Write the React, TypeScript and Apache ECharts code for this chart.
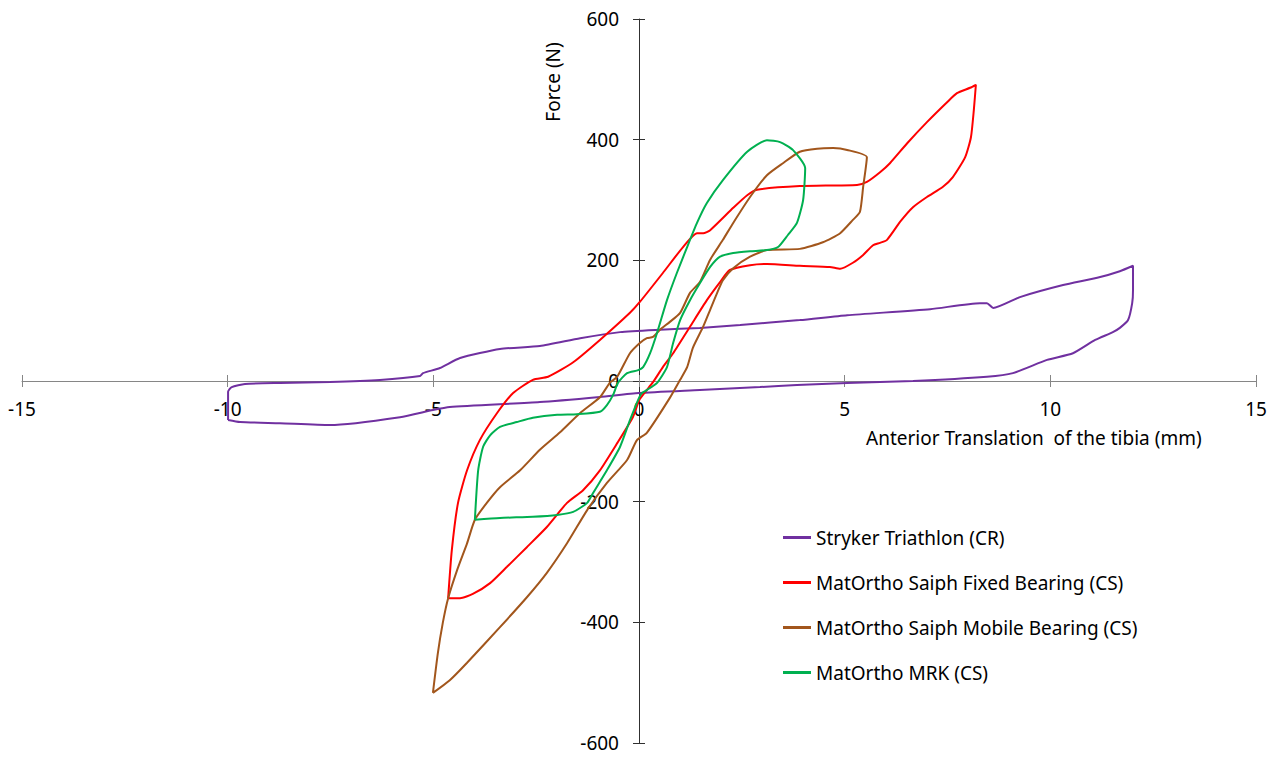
import React, { useEffect, useRef } from "react";
import * as echarts from "echarts";

const seriesNames = [
  "Stryker Triathlon (CR)",
  "MatOrtho Saiph Fixed Bearing (CS)",
  "MatOrtho Saiph Mobile Bearing (CS)",
  "MatOrtho MRK (CS)",
];
const seriesColors = ["#7030A0", "#FF0000", "#A2561C", "#00B050"];

const xTicks = { min: -15, max: 15, interval: 5 };
const yTicks = { min: -600, max: 600, interval: 200 };

const stryker: number[][] = [
  [-9.99, -64.6], [-9.99, -18], [-9.9, -10], [-9.58, -5], [-8.73, -3.3], [-7.51, -1.7],
  [-6.3, 1.7], [-5.32, 8.3], [-5.25, 13], [-4.84, 21.5], [-4.35, 38], [-3.38, 53],
  [-2.41, 58], [-1.43, 71], [-0.46, 81], [0.51, 85], [1.48, 88], [2.46, 93], [3.91, 101],
  [5.06, 109], [7.08, 119], [8.29, 129], [8.46, 129], [8.61, 121], [9.26, 139],
  [10.31, 159], [11.14, 171], [11.69, 182], [12.01, 191],
  [12.01, 151], [11.99, 129], [11.89, 101], [11.69, 88], [11.52, 81], [11.09, 68],
  [10.55, 46], [9.92, 35], [9.09, 13], [8.46, 7], [6.66, 0], [5.06, -3.3], [3.84, -6.6],
  [2.94, -10], [1.48, -15], [0, -20], [-0.95, -26.5], [-2.41, -35], [-4.6, -43],
  [-5.01, -48], [-5.81, -60], [-7.51, -73], [-8.73, -70], [-9.7, -68], [-9.99, -64.6],
];

const fixedBearing: number[][] = [
  [-4.64, -360], [-4.55, -280], [-4.4, -202], [-4.18, -148], [-3.87, -98], [-3.45, -53],
  [-3.06, -20], [-2.58, 2], [-2.21, 7], [-1.6, 31], [-0.95, 68], [-0.22, 113], [0.02, 131],
  [0.58, 179], [1.07, 222], [1.41, 245], [1.56, 245], [1.73, 250], [2.29, 287], [2.63, 308],
  [2.87, 317], [3.91, 323], [5.3, 325], [5.54, 330], [5.86, 346], [6.1, 361], [6.52, 394],
  [7.0, 429], [7.49, 462], [7.73, 477], [8.05, 486], [8.19, 491],
  [8.14, 449], [8.07, 404], [7.93, 371], [7.63, 338], [7.39, 322], [7.0, 305], [6.66, 288],
  [6.35, 264], [6.03, 234], [5.86, 229], [5.69, 225], [5.45, 209], [5.2, 196], [4.89, 186],
  [4.64, 189], [3.91, 191], [3.11, 194], [2.7, 192], [2.21, 184], [1.97, 164], [1.65, 134],
  [1.24, 90], [0.83, 46], [0.58, 23], [0.34, -2], [0.02, -30], [-0.15, -60], [-0.53, -103],
  [-0.95, -148], [-1.36, -181], [-1.75, -202], [-2.24, -242], [-2.72, -275], [-3.21, -308],
  [-3.62, -335], [-4.04, -353], [-4.35, -360], [-4.64, -360],
];

const mobileBearing: number[][] = [
  [-5.01, -517], [-4.89, -451], [-4.77, -401], [-4.64, -360], [-4.42, -313], [-4.18, -269],
  [-3.99, -230], [-3.7, -202], [-3.38, -176], [-2.89, -148], [-2.41, -114], [-1.92, -85],
  [-1.43, -53], [-0.95, -27], [-0.71, -3], [-0.53, 7], [-0.22, 46], [0.02, 63], [0.19, 71],
  [0.34, 73], [0.51, 85], [0.75, 98], [1.0, 113], [1.24, 146], [1.48, 164], [1.73, 201],
  [2.04, 234], [2.29, 262], [2.7, 305], [3.11, 341], [3.5, 361], [3.91, 380], [4.33, 385],
  [4.72, 386], [5.06, 383], [5.54, 371],
  [5.45, 322], [5.37, 280], [5.2, 267], [4.89, 245], [4.47, 230], [3.91, 219], [3.11, 217],
  [2.7, 206], [2.29, 187], [2.04, 167], [1.9, 146], [1.73, 118], [1.56, 90], [1.31, 55],
  [1.17, 23], [1.0, 2], [0.75, -28], [0.19, -86], [-0.05, -98], [-0.29, -131], [-0.78, -169],
  [-1.26, -214], [-1.75, -269], [-2.24, -318], [-2.72, -358], [-3.38, -408], [-4.18, -467],
  [-4.6, -496], [-5.01, -517],
];

const mrk: number[][] = [
  [-3.99, -230], [-3.91, -148], [-3.79, -109], [-3.62, -90], [-3.38, -76], [-2.97, -68],
  [-2.58, -61], [-1.99, -56], [-1.51, -55], [-0.95, -51], [-0.78, -40], [-0.63, -23],
  [-0.51, -3], [-0.29, 13], [-0.02, 18], [0.1, 23], [0.27, 46], [0.44, 80], [0.68, 134],
  [0.92, 179], [1.17, 222], [1.41, 262], [1.65, 295], [2.04, 333], [2.63, 380], [3.11, 399],
  [3.43, 396], [3.74, 383], [4.04, 353],
  [3.99, 300], [3.84, 262], [3.62, 242], [3.38, 222], [3.11, 217], [2.7, 215], [2.29, 212],
  [1.97, 206], [1.73, 189], [1.48, 162], [1.24, 134], [1.0, 101], [0.83, 63], [0.68, 23],
  [0.44, -3], [0.19, -15], [0.07, -20], [0, -28], [-0.22, -65], [-0.46, -109], [-0.78, -148],
  [-1.12, -186], [-1.26, -202], [-1.6, -217], [-1.99, -222], [-2.58, -225], [-3.38, -227],
  [-3.99, -230],
];

const seriesData = [stryker, fixedBearing, mobileBearing, mrk];

const xAxisTitle = "Anterior Translation  of the tibia (mm)";
const yAxisTitle = "Force (N)";

const FONT = "'Noto Sans', sans-serif";
const X_AXIS_COLOR = "#868686";
const Y_AXIS_COLOR = "#303030";

// plot area
const G = { left: 22, right: 24, top: 19, bottom: 15 };
const W = 1280;
const H = 758;

export default function App() {
  const ref = useRef<HTMLDivElement>(null);

  useEffect(() => {
    if (!ref.current) return;
    const chart = echarts.init(ref.current, undefined, { renderer: "svg" });

    const plotW = W - G.left - G.right;
    const plotH = H - G.top - G.bottom;
    const zeroX = G.left + (plotW * (0 - xTicks.min)) / (xTicks.max - xTicks.min);
    const zeroY = G.top + (plotH * (yTicks.max - 0)) / (yTicks.max - yTicks.min);

    const xRange = { type: "value" as const, min: xTicks.min, max: xTicks.max, interval: xTicks.interval };
    const yRange = { type: "value" as const, min: yTicks.min, max: yTicks.max, interval: yTicks.interval };
    const xTick = { show: true, length: 6, lineStyle: { color: X_AXIS_COLOR, width: 1 } };
    const yTick = { show: true, length: 6, lineStyle: { color: Y_AXIS_COLOR, width: 1 } };
    const labelStyle = { color: "#000", fontSize: 19, fontFamily: FONT };
    const hiddenAxis = (gridIndex: number) => ({
      type: "value" as const,
      gridIndex,
      min: 0,
      max: 1,
      show: false,
    });

    chart.setOption({
      animation: false,
      backgroundColor: "#ffffff",
      grid: [
        // 0: main plot
        { ...G, outerBoundsMode: "none" },
        // 1: bottom edge on the zero line -> x labels + upward ticks
        {
          left: G.left,
          right: G.right,
          top: G.top,
          bottom: H - zeroY,
          outerBoundsMode: "none",
        },
        // 2: left edge on the zero line -> y labels + rightward ticks
        {
          left: zeroX,
          right: G.right,
          top: G.top,
          bottom: G.bottom,
          outerBoundsMode: "none",
        },
      ],
      xAxis: [
        {
          ...xRange,
          gridIndex: 0,
          position: "bottom",
          splitLine: { show: false },
          axisLine: { show: true, onZero: true, lineStyle: { color: X_AXIS_COLOR, width: 1 } },
          axisTick: xTick,
          axisLabel: { show: false },
        },
        {
          ...xRange,
          gridIndex: 1,
          position: "bottom",
          splitLine: { show: false },
          axisLine: { show: false, onZero: false },
          axisTick: { ...xTick, inside: true },
          axisLabel: { show: true, margin: 18, ...labelStyle },
        },
        hiddenAxis(2),
      ],
      yAxis: [
        {
          ...yRange,
          gridIndex: 0,
          position: "left",
          splitLine: { show: false },
          axisLine: { show: true, onZero: true, lineStyle: { color: Y_AXIS_COLOR, width: 1 } },
          axisTick: yTick,
          axisLabel: { show: false },
        },
        hiddenAxis(1),
        {
          ...yRange,
          gridIndex: 2,
          position: "left",
          splitLine: { show: false },
          axisLine: { show: false, onZero: false },
          axisTick: { ...yTick, inside: true },
          axisLabel: { show: true, margin: 20, ...labelStyle },
        },
      ],
      legend: {
        orient: "vertical",
        left: 778,
        top: 522,
        itemWidth: 28,
        itemHeight: 3,
        itemGap: 24,
        icon: "rect",
        textStyle: { fontSize: 19, fontFamily: FONT, color: "#000", lineHeight: 21 },
        data: seriesNames,
      },
      graphic: [
        {
          type: "text",
          left: 866,
          top: 428,
          style: { text: xAxisTitle, fontSize: 19, fontFamily: FONT, fill: "#000" },
        },
        {
          type: "text",
          x: 553,
          y: 82,
          rotation: Math.PI / 2,
          style: {
            text: yAxisTitle,
            fontSize: 19,
            fontFamily: FONT,
            fill: "#000",
            align: "center",
            verticalAlign: "middle",
          },
        },
      ],
      series: seriesNames.map((name, i) => ({
        name,
        type: "line",
        xAxisIndex: 0,
        yAxisIndex: 0,
        data: seriesData[i],
        showSymbol: false,
        symbol: "none",
        smooth: 0.2,
        lineStyle: { color: seriesColors[i], width: 2 },
        itemStyle: { color: seriesColors[i] },
      })),
    });

    return () => chart.dispose();
  }, []);

  return (
    <div
      ref={ref}
      style={{ position: "fixed", left: 0, top: 0, width: W, height: H, background: "#fff" }}
    />
  );
}
